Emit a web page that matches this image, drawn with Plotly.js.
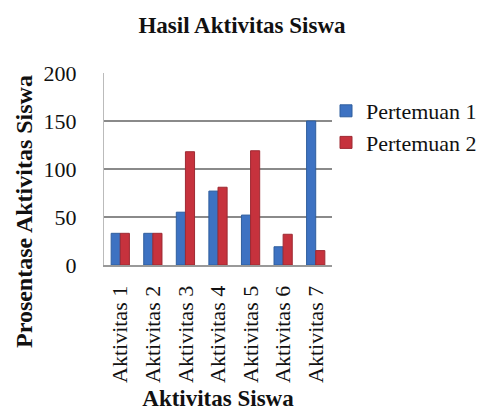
<!DOCTYPE html>
<html><head><meta charset="utf-8">
<script src="https://cdn.plot.ly/plotly-3.0.1.min.js"></script>
<style>body{margin:0;background:#fff}#c{width:484px;height:414px}</style>
</head><body><div id="c"></div>
<script>
const categories = ["Aktivitas 1","Aktivitas 2","Aktivitas 3","Aktivitas 4","Aktivitas 5","Aktivitas 6","Aktivitas 7"];
const pertemuan1 = [33, 33, 55, 77, 52, 19, 150];
const pertemuan2 = [33, 33, 118, 81, 119, 32, 15];
const seriesNames = ["Pertemuan 1", "Pertemuan 2"];
const yTicks = [0, 50, 100, 150, 200];

const font = "Liberation Serif, Times New Roman, serif";
const data = [
  {type:"bar", x:categories, y:pertemuan1, name:seriesNames[0], marker:{color:"#3D72C2", line:{color:"#2F5E9E", width:1}}},
  {type:"bar", x:categories, y:pertemuan2, name:seriesNames[1], marker:{color:"#C6323D", line:{color:"#9E2A33", width:1}}}
];
const L = 104, R = 152, T = 73, B = 149;
const pw = 484 - L - R, ph = 414 - T - B;
const layout = {
  width:484, height:414,
  margin:{l:L, r:R, t:T, b:B, autoexpand:false},
  paper_bgcolor:"#fff", plot_bgcolor:"#fff",
  font:{family:font, color:"#111"},
  title:{text:"<b>Hasil Aktivitas Siswa</b>", x:0.5, xanchor:"center", y:1 - 25/414, yanchor:"middle", font:{size:23, family:font}},
  bargap:0.44, bargroupgap:0,
  xaxis:{tickangle:-90, tickfont:{size:22, family:font}, ticklabelstandoff:10, showline:true, linecolor:"#999", linewidth:2,
    title:{text:"<b>Aktivitas Siswa</b>", font:{size:23, family:font}, standoff:8}},
  yaxis:{range:[0,200], tickvals:yTicks, tickfont:{size:22, family:font}, ticklabelstandoff:22, gridcolor:"#8a8a8a", gridwidth:2,
    showline:true, linecolor:"#bbb", linewidth:1, zeroline:false, ticks:"", ticklen:0},
  annotations:[{text:"<b>Prosentase Aktivitas Siswa</b>", textangle:-90, xref:"paper", yref:"paper",
    x:(24 - L)/pw, y:(414 - B - 212)/ph, xanchor:"center", yanchor:"middle", showarrow:false,
    font:{size:24, family:font, color:"#111"}}],
  legend:{x:(326 - L)/pw, y:(414 - B - 90)/ph, xanchor:"left", yanchor:"top", bgcolor:"rgba(0,0,0,0)", font:{size:22, family:font}, tracegroupgap:13, itemwidth:30}
};
Plotly.newPlot("c", data, layout, {displayModeBar:false});
</script></body></html>
